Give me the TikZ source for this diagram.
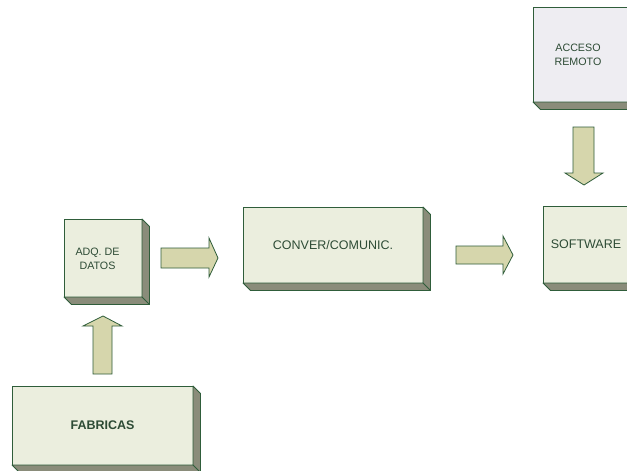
\documentclass[tikz,border=0pt]{standalone}
\usepackage{fontspec}
\setmainfont{Liberation Sans}
\usetikzlibrary{calc}

\definecolor{faceGreen}{RGB}{235,238,222}
\definecolor{faceLilac}{RGB}{238,237,242}
\definecolor{depthGray}{RGB}{138,140,122}
\definecolor{edgeGreen}{RGB}{47,93,58}
\definecolor{arrowFill}{RGB}{214,214,172}
\definecolor{labelGreen}{RGB}{45,75,53}

\tikzset{
  frontface/.style={draw=edgeGreen, line width=0.8pt, inner sep=0pt, outer sep=0pt,
    text=labelGreen, align=center, font=\fontsize{12.5}{13.5}\selectfont},
  depthface/.style={draw=edgeGreen, line width=0.8pt, fill=depthGray, line join=round},
  blockarrow/.style={draw=edgeGreen, line width=0.8pt, fill=arrowFill, line join=miter},
  boxlabel/.style={text=labelGreen, align=center, inner sep=0pt, font=\fontsize{10.7}{14}\selectfont}
}

% depth faces on the right and bottom of a front face
\newcommand{\boxdepth}[1]{%
  \draw[depthface] (#1.north east) -- ++(7.5,7.5) -- ($(#1.south east)+(7.5,7.5)$)
    -- ($(#1.south west)+(7.5,7.5)$) -- (#1.south west) -- (#1.south east) -- cycle;
  \draw[edgeGreen, line width=0.8pt] (#1.south east) -- ++(7.5,7.5);
}

\begin{document}
\begin{tikzpicture}[x=1pt, y=-1pt]
  \useasboundingbox (0,0) rectangle (627,471);
  \fill[white] (0,0) rectangle (627,471);
  \clip (0,0) rectangle (627,471);

  % front faces
  \node[frontface, fill=faceGreen, minimum width=78pt, minimum height=78pt] (adq) at (103,258) {};
  \node[frontface, fill=faceGreen, minimum width=180pt, minimum height=76pt] (conver) at (333,245) {CONVER/COMUNIC.};
  \node[frontface, fill=faceGreen, minimum width=86pt, minimum height=77pt] (soft) at (586,244.5) {SOFTWARE};
  \node[frontface, fill=faceLilac, minimum width=104pt, minimum height=95pt] (acceso) at (585,54.5) {};
  \node[frontface, fill=faceGreen, minimum width=181pt, minimum height=79pt] (fab) at (102.5,425.5) {\bfseries FABRICAS};

  \boxdepth{adq}
  \boxdepth{conver}
  \boxdepth{soft}
  \boxdepth{acceso}
  \boxdepth{fab}

  % labels placed off-centre on their faces
  \node[boxlabel] (adqText) at ($(adq.center)+(-5.5,1)$) {ADQ. DE\\DATOS};
  \node[boxlabel] (accesoText) at ($(acceso.west)+(45,0)$) {ACCESO\\REMOTO};

  % block arrows
  \draw[blockarrow] ($(adq.east)+(19,-10)$) -- ++(48,0) -- ++(0,-10) -- ++(9,20)
    -- ++(-9,19) -- ++(0,-9) -- ++(-48,0) -- cycle;
  \draw[blockarrow] ($(conver.east)+(33,1)$) -- ++(47,0) -- ++(0,-10) -- ++(10,19)
    -- ++(-10,19) -- ++(0,-10) -- ++(-47,0) -- cycle;
  \draw[blockarrow] ($(fab.north)+(-9.5,-12)$) -- ++(0,-48) -- ++(-10,0) -- ++(20,-10)
    -- ++(19,10) -- ++(-10,0) -- ++(0,48) -- cycle;
  \draw[blockarrow] ($(soft.north)+(-13,-79)$) -- ++(0,46) -- ++(-8,0) -- ++(19,12)
    -- ++(19,-12) -- ++(-9,0) -- ++(0,-46) -- cycle;
\end{tikzpicture}
\end{document}
